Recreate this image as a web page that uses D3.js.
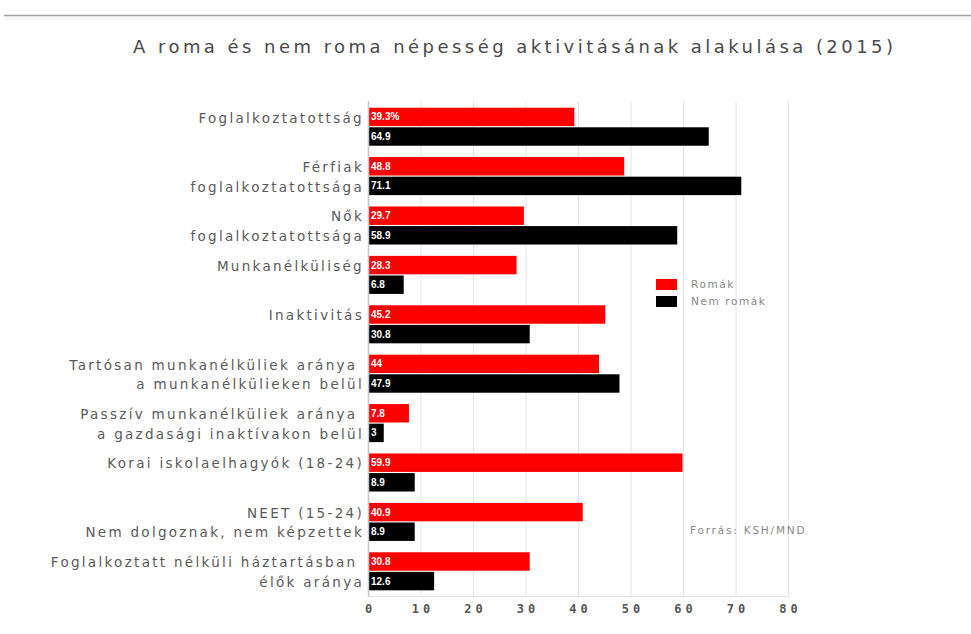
<!DOCTYPE html>
<html>
<head>
<meta charset="utf-8">
<script src="https://cdn.jsdelivr.net/npm/d3@7/dist/d3.min.js"></script>
<style>
  html, body { margin: 0; padding: 0; background: #fff; }
  svg { display: block; }
</style>
</head>
<body>
<svg id="chart" width="971" height="634"></svg>
<script>
// Categories: each entry is one or two label lines
const categories = [
  ["Foglalkoztatottság"],
  ["Férfiak", "foglalkoztatottsága"],
  ["Nők", "foglalkoztatottsága"],
  ["Munkanélküliség"],
  ["Inaktivitás"],
  ["Tartósan munkanélküliek aránya\u00a0", "a munkanélkülieken belül"],
  ["Passzív munkanélküliek aránya\u00a0", "a gazdasági inaktívakon belül"],
  ["Korai iskolaelhagyók (18-24)"],
  ["NEET (15-24)", "Nem dolgoznak, nem képzettek"],
  ["Foglalkoztatt nélküli háztartásban\u00a0", "élők aránya"]
];
const seriesNames = ["Romák", "Nem romák"];
const romaValues = [39.3, 48.8, 29.7, 28.3, 45.2, 44, 7.8, 59.9, 40.9, 30.8];
const nonRomaValues = [64.9, 71.1, 58.9, 6.8, 30.8, 47.9, 3, 8.9, 8.9, 12.6];
const romaLabels = ["39.3%", "48.8", "29.7", "28.3", "45.2", "44", "7.8", "59.9", "40.9", "30.8"];
const nonRomaLabels = ["64.9", "71.1", "58.9", "6.8", "30.8", "47.9", "3", "8.9", "8.9", "12.6"];
const xTicks = [0, 10, 20, 30, 40, 50, 60, 70, 80];
const colors = ["#fe0000", "#000000"];

const svg = d3.select("#chart");

// Thin rule across the top of the page
svg.append("line")
  .attr("x1", 4).attr("x2", 971).attr("y1", 15.5).attr("y2", 15.5)
  .attr("stroke", "#a0a0a0").attr("stroke-width", 1.5);
svg.append("rect")
  .attr("x", 4).attr("y", 17).attr("width", 967).attr("height", 3)
  .attr("fill", "#f6f6f6");

// Title
svg.append("text")
  .attr("x", 133).attr("y", 53)
  .attr("textLength", 760).attr("lengthAdjust", "spacing")
  .style("font-family", "'DejaVu Sans', sans-serif")
  .style("font-size", "18px")
  .attr("fill", "#4a4a4a")
  .text("A roma és nem roma népesség aktivitásának alakulása (2015)");

const x = d3.scaleLinear().domain([0, 80]).range([368, 788]);
const y0 = d3.scaleBand()
  .domain(d3.range(categories.length))
  .range([102, 596])
  .paddingInner(0.23)
  .paddingOuter(0.115);
const y1 = d3.scaleBand()
  .domain(seriesNames)
  .range([0, y0.bandwidth()])
  .paddingInner(0.06);

// Vertical gridlines
svg.append("g").selectAll("line")
  .data(xTicks.slice(1))
  .join("line")
  .attr("x1", d => x(d) + 0.5).attr("x2", d => x(d) + 0.5)
  .attr("y1", 101).attr("y2", 596)
  .attr("stroke", "#e4e4e4").attr("stroke-width", 1);

// Bottom gridline
svg.append("line")
  .attr("x1", x(0)).attr("x2", x(80))
  .attr("y1", 596.5).attr("y2", 596.5)
  .attr("stroke", "#e4e4e4");

// Bars
const rows = categories.map((c, i) => ({
  i,
  bars: [
    { s: seriesNames[0], v: romaValues[i], label: romaLabels[i], c: colors[0] },
    { s: seriesNames[1], v: nonRomaValues[i], label: nonRomaLabels[i], c: colors[1] }
  ]
}));

const groups = svg.append("g").selectAll("g")
  .data(rows)
  .join("g")
  .attr("transform", d => `translate(0,${y0(d.i)})`);

groups.selectAll("rect")
  .data(d => d.bars)
  .join("rect")
  .attr("x", x(0))
  .attr("y", d => y1(d.s))
  .attr("width", d => x(d.v) - x(0))
  .attr("height", y1.bandwidth())
  .attr("fill", d => d.c);

groups.selectAll("text.val")
  .data(d => d.bars)
  .join("text")
  .attr("class", "val")
  .attr("x", x(0) + 3)
  .attr("y", d => y1(d.s) + y1.bandwidth() / 2)
  .attr("dy", "0.35em")
  .style("font-family", "'Liberation Sans Narrow', 'Arial Narrow', sans-serif")
  .style("font-size", "10px")
  .style("font-weight", "bold")
  .attr("fill", "#fff")
  .text(d => d.label);

// Left axis line
svg.append("line")
  .attr("x1", x(0) + 0.5).attr("x2", x(0) + 0.5)
  .attr("y1", 101).attr("y2", 597)
  .attr("stroke", "#c8c8c8").attr("stroke-width", 1.5);

// Category labels
const catLabels = svg.append("g").selectAll("text")
  .data(rows)
  .join("text")
  .attr("text-anchor", "end")
  .style("font-family", "'DejaVu Sans', sans-serif")
  .style("font-size", "13.5px")
  .style("letter-spacing", "2.3px")
  .attr("fill", "#5a5a5a");
catLabels.selectAll("tspan")
  .data(d => categories[d.i].map((t, k) => ({ t, k, i: d.i })))
  .join("tspan")
  .attr("x", 364)
  .attr("y", d => y0(d.i) + y1(seriesNames[d.k]) + y1.bandwidth() / 2 + 1)
  .attr("dy", "0.35em")
  .text(d => d.t);

// X axis
const xAxis = d3.axisBottom(x).tickValues(xTicks).tickSize(0).tickPadding(0);
const ax = svg.append("g").attr("transform", "translate(0,609)").call(xAxis);
ax.select(".domain").remove();
ax.selectAll("text")
  .attr("dy", "0.35em")
  .attr("dx", "2px")
  .style("font-family", "'DejaVu Sans Mono', monospace")
  .style("font-size", "12px")
  .style("font-weight", "bold")
  .style("letter-spacing", "4px")
  .attr("fill", "#555");

// Legend
const legend = svg.append("g").attr("transform", "translate(656,279)");
legend.selectAll("rect")
  .data(seriesNames)
  .join("rect")
  .attr("x", 0)
  .attr("y", (d, i) => i * 17)
  .attr("width", 21).attr("height", 11)
  .attr("fill", (d, i) => colors[i]);
legend.selectAll("text")
  .data(seriesNames)
  .join("text")
  .attr("x", 35)
  .attr("y", (d, i) => i * 17 + 5.5)
  .attr("dy", "0.35em")
  .style("font-family", "'DejaVu Sans', sans-serif")
  .style("font-size", "10.5px")
  .style("letter-spacing", "1.6px")
  .attr("fill", "#888")
  .text(d => d);

// Source note
svg.append("text")
  .attr("x", 690).attr("y", 530)
  .attr("dy", "0.35em")
  .style("font-family", "'DejaVu Sans', sans-serif")
  .style("font-size", "10.5px")
  .style("letter-spacing", "1.8px")
  .attr("fill", "#888")
  .text("Forrás: KSH/MND");
</script>
</body>
</html>
